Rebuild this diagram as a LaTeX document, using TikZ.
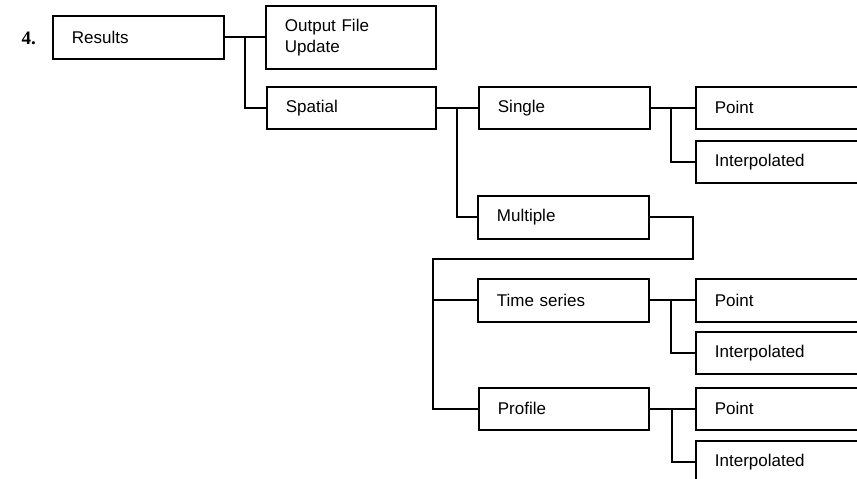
\documentclass[tikz,border=0pt]{standalone}
\usepackage{fontspec}
\setmainfont{Liberation Sans}
\newfontfamily\numfont{Liberation Serif}
\begin{document}
\begin{tikzpicture}[x=1pt,y=-1pt,
  box/.style={draw=black,line width=1.8pt,rectangle,anchor=north west,
    inner xsep=19pt,inner ysep=0pt,align=left,font=\fontsize{17}{21}\selectfont},
  link/.style={draw=black,line width=2pt}]
\useasboundingbox (0,0) rectangle (857,479);
\clip (0,0) rectangle (857,479);

\node[font=\numfont\bfseries\fontsize{19}{22}\selectfont,anchor=base west] (num) at (18,44) {4.};

% top level
\node[box,text width=133pt,minimum height=43pt] (res) at (52,15) {Results};
\node[box,text width=132pt,minimum height=63pt] (out) at (265,5) {Output File\\Update};
\node[box,text width=131pt,minimum height=42pt] (spa) at (266,86) {Spatial};

% spatial branch
\node[box,text width=133pt,minimum height=42pt] (sin) at (478,86) {Single};
\node[box,text width=137pt,minimum height=42pt] (sp) at (695,86) {Point};
\node[box,text width=137pt,minimum height=42pt] (si) at (695,140) {Interpolated};
\node[box,text width=133pt,minimum height=43pt] (mul) at (477,195) {Multiple};

% multiple branch
\node[box,text width=133pt,minimum height=43pt] (tim) at (477,278) {Time series};
\node[box,text width=137pt,minimum height=43pt] (tp) at (695,278) {Point};
\node[box,text width=137pt,minimum height=42pt] (ti) at (695,331) {Interpolated};
\node[box,text width=132pt,minimum height=42pt] (pro) at (478,387) {Profile};
\node[box,text width=137pt,minimum height=42pt] (pp) at (695,387) {Point};
\node[box,text width=137pt,minimum height=42pt] (pi) at (695,440) {Interpolated};

% junction points
\coordinate (j1) at (245,36.5);
\coordinate (j2) at (457,107);
\coordinate (j3) at (671,107);
\coordinate (m1) at (693,259);
\coordinate (j4) at (433,259);
\coordinate (j5) at (671,299.5);
\coordinate (j6) at (672,408);

% connectors
\draw[link] (res.east) -- (out.west);
\draw[link] (j1) |- (spa.west);
\draw[link] (spa.east) -- (sin.west);
\draw[link] (j2) |- (mul.west);
\draw[link] (sin.east) -- (sp.west);
\draw[link] (j3) |- (si.west);
\draw[link] (mul.east) -| (m1) -- (j4) |- (pro.west);
\draw[link] (j4) |- (tim.west);
\draw[link] (tim.east) -- (tp.west);
\draw[link] (j5) |- (ti.west);
\draw[link] (pro.east) -- (pp.west);
\draw[link] (j6) |- (pi.west);
\end{tikzpicture}
\end{document}
